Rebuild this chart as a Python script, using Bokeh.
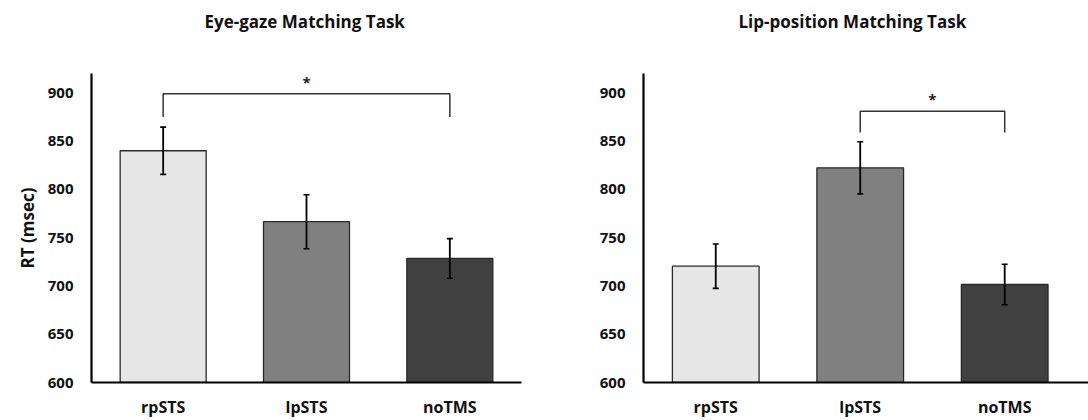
from bokeh.plotting import figure
from bokeh.models import Range1d, FixedTicker, Whisker, TeeHead, ColumnDataSource, Title
from bokeh.layouts import row
from bokeh.core.properties import value
from bokeh.embed import file_html
from bokeh.resources import INLINE

categories = ["rpSTS", "lpSTS", "noTMS"]
bar_colors = ["#e6e6e6", "#808080", "#404040"]

eye_title = "Eye-gaze Matching Task"
eye_rt = [840, 766.5, 728.5]
eye_err = [24.5, 28, 20.5]
eye_bracket = ("rpSTS", "noTMS", 875, 899, 911)

lip_title = "Lip-position Matching Task"
lip_rt = [720.5, 822.3, 701.5]
lip_err = [23, 27, 21]
lip_bracket = ("lpSTS", "noTMS", 859, 881, 894)

y_ticks = [600, 650, 700, 750, 800, 850, 900]
FONT = "Open Sans"


def panel(title, title_offset, rt, err, bracket, width, mb_left, mb_right, x_end, ylabel):
    p = figure(width=width, height=420, x_range=Range1d(0, x_end), y_range=Range1d(600, 920),
               output_backend="svg", toolbar_location=None,
               min_border_left=mb_left, min_border_right=mb_right,
               min_border_top=73, min_border_bottom=36)
    p.outline_line_color = None
    p.xgrid.visible = False
    p.ygrid.visible = False
    p.background_fill_color = "white"
    p.border_fill_color = "white"

    # spacer between frame and title, then the title itself
    p.add_layout(Title(text=" ", text_font_size="1px", standoff=32), "above")
    p.add_layout(Title(text=title, align="left", offset=title_offset, standoff=12,
                       text_font=FONT, text_font_style="bold", text_font_size="17px",
                       text_color="#111111"), "above")

    xs = [i + 0.5 for i in range(len(categories))]
    src = ColumnDataSource(dict(x=xs, top=rt, color=bar_colors,
                                upper=[v + e for v, e in zip(rt, err)],
                                lower=[v - e for v, e in zip(rt, err)]))
    p.vbar(x="x", top="top", bottom=600, width=0.6, fill_color="color",
           line_color="#2a2a2a", line_width=1.3, source=src)
    w = Whisker(base="x", upper="upper", lower="lower", source=src, level="overlay",
                line_color="black", line_width=1.8,
                upper_head=TeeHead(size=6, line_color="black", line_width=1.6),
                lower_head=TeeHead(size=6, line_color="black", line_width=1.6))
    p.add_layout(w)

    a, b, lo, hi, star = bracket
    xa = categories.index(a) + 0.5
    xb = categories.index(b) + 0.5
    p.line([xa, xa, xb, xb], [lo, hi, hi, lo], line_color="#333333", line_width=1.5)
    p.text([(xa + xb) / 2], [star], text=["*"], text_align="center",
           text_baseline="middle", text_font=value(FONT), text_font_size="15px",
           text_font_style="bold", text_color="#222222")

    p.xaxis.ticker = FixedTicker(ticks=xs)
    p.xaxis.major_label_overrides = {x: c for x, c in zip(xs, categories)}
    p.yaxis.ticker = FixedTicker(ticks=y_ticks)
    for ax in (p.xaxis[0], p.yaxis[0]):
        ax.axis_line_color = "black"
        ax.axis_line_width = 2.2
        ax.major_tick_line_color = None
        ax.minor_tick_line_color = None
        ax.major_tick_out = 0
        ax.major_tick_in = 0
        ax.major_label_text_font = FONT
        ax.major_label_text_font_style = "bold"
        ax.major_label_text_color = "#111111"
    p.xaxis.major_label_text_font_size = "16px"
    p.yaxis.major_label_text_font_size = "15px"
    p.xaxis.major_label_standoff = 13
    p.yaxis.major_label_standoff = 18
    if ylabel:
        p.yaxis.axis_label = ylabel
        p.yaxis.axis_label_text_font = FONT
        p.yaxis.axis_label_text_font_style = "bold"
        p.yaxis.axis_label_text_font_size = "17px"
        p.yaxis.axis_label_text_color = "#111111"
        p.yaxis.axis_label_standoff = 6
    return p


p1 = panel(eye_title, 113, eye_rt, eye_err, eye_bracket, 544, 91, 23, 3.0, "RT (msec)")
p2 = panel(lip_title, 95, lip_rt, lip_err, lip_bracket, 544, 99, 0, 3.08, None)
layout = row(p1, p2)
open("out.html", "w").write(file_html(layout, INLINE))
